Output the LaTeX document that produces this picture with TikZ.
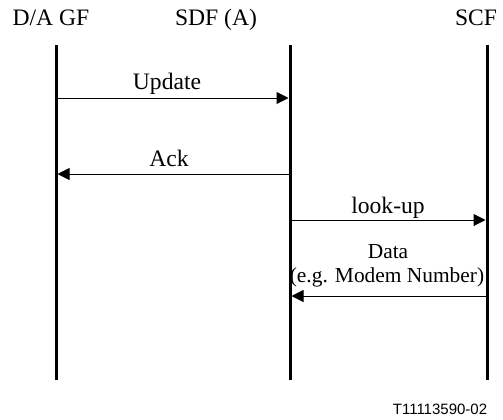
\documentclass[tikz,border=0pt]{standalone}
\usepackage{fontspec}
\setmainfont{Liberation Serif}
\newfontfamily\figfont{Liberation Sans}
\usetikzlibrary{arrows.meta}

\begin{document}
\begin{tikzpicture}[x=0.5pt, y=-0.5pt,
    lifeline/.style={line width=1.5pt},
    msg/.style={-{Triangle[length=6pt,width=6pt]}, line width=0.5pt, shorten >=0.75pt},
    lbl/.style={font=\fontsize{11.8}{14}\selectfont, inner sep=0pt, anchor=base},
    small/.style={lbl, font=\fontsize{10.7}{13}\selectfont}]
                \useasboundingbox (0,0) rectangle (503,419);

                % Draw headers
                \node[lbl] (dagf) at (51,25) {D/A GF};
                \node[lbl] (sdfa) at (216,25) {SDF (A)};
                \node[lbl] (scf) at (476,25) {SCF};

                % Draw lifelines
                \coordinate (dagftop) at (56,45);
                \coordinate (dagfbot) at (56,380);
                \coordinate (sdfatop) at (290,45);
                \coordinate (sdfabot) at (290,380);
                \coordinate (scftop) at (487,45);
                \coordinate (scfbot) at (487,380);
                \draw[lifeline] (dagftop) -- (dagfbot);
                \draw[lifeline] (sdfatop) -- (sdfabot);
                \draw[lifeline] (scftop) -- (scfbot);

                % Message points on the lifelines
                \coordinate (upd1) at (56,98);
                \coordinate (upd2) at (290,98);
                \coordinate (ack1) at (290,174);
                \coordinate (ack2) at (56,174);
                \coordinate (look1) at (290,220);
                \coordinate (look2) at (487,220);
                \coordinate (data1) at (487,296);
                \coordinate (data2) at (290,296);

                % Draw messages
                \draw[msg] (upd1) -- (upd2);
                \node[lbl] (updlbl) at (167,89) {Update};
                \draw[msg] (ack1) -- (ack2);
                \node[lbl] (acklbl) at (169,166) {Ack};
                \draw[msg] (look1) -- (look2);
                \node[lbl] (looklbl) at (388,213) {look-up};
                \draw[msg] (data1) -- (data2);
                \node[small] (datalbl) at (388,258) {Data};
                \node[small] (datalbl2) at (387,282) {(e.g. Modem Number)};

                % Figure number
                \node[lbl, font=\figfont\fontsize{7.5}{9}\selectfont] (figno) at (440,414) {T11113590-02};
\end{tikzpicture}
\end{document}
